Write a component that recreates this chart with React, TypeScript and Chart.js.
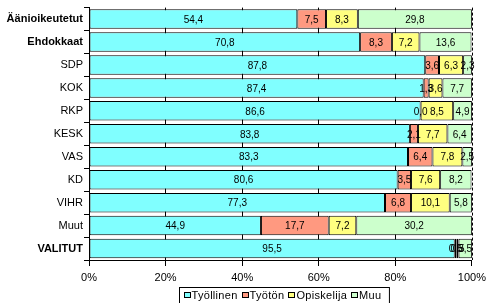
import React, { useEffect, useRef } from "react";
import { Chart, registerables } from "chart.js";

Chart.register(...registerables);

const categories = ["Äänioikeutetut", "Ehdokkaat", "SDP", "KOK", "RKP", "KESK", "VAS", "KD", "VIHR", "Muut", "VALITUT"];
const boldCategories = ["Äänioikeutetut", "Ehdokkaat", "VALITUT"];
const seriesNames = ["Työllinen", "Työtön", "Opiskelija", "Muu"];
const tyollinen = [54.4, 70.8, 87.8, 87.4, 86.6, 83.8, 83.3, 80.6, 77.3, 44.9, 95.5];
const tyoton = [7.5, 8.3, 3.6, 1.3, 0.0, 2.1, 6.4, 3.5, 6.8, 17.7, 0.5];
const opiskelija = [8.3, 7.2, 6.3, 3.6, 8.5, 7.7, 7.8, 7.6, 10.1, 7.2, 0.5];
const muu = [29.8, 13.6, 2.3, 7.7, 4.9, 6.4, 2.5, 8.2, 5.8, 30.2, 3.5];
const xTickValues = [0, 20, 40, 60, 80, 100];
const colors = ["#80FFFF", "#FF9980", "#FFFF80", "#CCFFCC"];

const FONT = "'Liberation Sans', Arial, sans-serif";

const labelPlugin = {
  id: "segLabels",
  afterDatasetsDraw(chart: any) {
    const ctx = chart.ctx;
    ctx.save();
    ctx.font = `10px ${FONT}`;
    ctx.fillStyle = "#000";
    ctx.textAlign = "center";
    ctx.textBaseline = "middle";
    chart.data.datasets.forEach((ds: any, di: number) => {
      const meta = chart.getDatasetMeta(di);
      meta.data.forEach((el: any, i: number) => {
        const v = ds.data[i];
        if (v == null) return;
        const cx = (el.x + el.base) / 2;
        ctx.fillText(v.toFixed(1).replace(".", ","), cx, el.y + 1);
      });
    });
    const a = chart.chartArea;
    ctx.strokeStyle = "#000";
    ctx.lineWidth = 1;
    ctx.setLineDash([3, 2]);
    ctx.beginPath();
    ctx.moveTo(Math.round(a.right) + 0.5, a.top);
    ctx.lineTo(Math.round(a.right) + 0.5, a.bottom);
    ctx.stroke();
    ctx.setLineDash([]);
    ctx.restore();
  },
  afterDraw(chart: any) {
    const ctx = chart.ctx;
    ctx.save();
    ctx.font = `11px ${FONT}`;
    try { (ctx as any).letterSpacing = "0.3px"; } catch (e) {}
    ctx.textBaseline = "middle";
    ctx.textAlign = "left";
    const sw = 7, sh = 6, gapAfterSw = 1, gapItems = 4, padL = 4, padR = 8;
    let total = padL + padR;
    const widths = seriesNames.map((n) => ctx.measureText(n).width);
    widths.forEach((w, i) => {
      total += sw + gapAfterSw + w + (i < widths.length - 1 ? gapItems : 0);
    });
    const cx = 283.5;
    const left = Math.round(cx - total / 2) + 0.5;
    const top = 287.5;
    ctx.strokeStyle = "#000";
    ctx.lineWidth = 1;
    ctx.strokeRect(left, top, total, 22);
    let x = left + padL;
    const y = 295;
    seriesNames.forEach((n, i) => {
      ctx.fillStyle = colors[i];
      ctx.fillRect(Math.round(x), y - 3, sw, sh);
      ctx.strokeRect(Math.round(x) + 0.5, y - 3 + 0.5, sw - 1, sh - 1);
      x += sw + gapAfterSw;
      ctx.fillStyle = "#000";
      ctx.fillText(n, x, y + 1);
      x += widths[i] + gapItems;
    });
    ctx.restore();
  },
};

export default function App() {
  const ref = useRef<HTMLCanvasElement | null>(null);
  useEffect(() => {
    if (!ref.current) return;
    const series = [tyollinen, tyoton, opiskelija, muu];
    const chart = new Chart(ref.current, {
      type: "bar",
      data: {
        labels: categories,
        datasets: series.map((d, i) => ({
          label: seriesNames[i],
          data: d,
          backgroundColor: colors[i],
          borderColor: "#000",
          borderWidth: 1,
          borderSkipped: false,
          barPercentage: 1,
          categoryPercentage: 0.85,
        })),
      },
      options: {
        indexAxis: "y",
        responsive: false,
        animation: false,
        layout: { padding: { top: 1, right: 14, bottom: 0, left: 0 } },
        plugins: { legend: { display: false }, tooltip: { enabled: false } },
        scales: {
          x: {
            stacked: true,
            min: 0,
            max: 100,
            afterBuildTicks: (scale: any) => {
              scale.ticks = xTickValues.map((v) => ({ value: v }));
            },
            afterFit: (scale: any) => {
              scale.height = 43;
            },
            grid: {
              color: (c: any) => (c.tick && c.tick.value === 100 ? "rgba(0,0,0,0)" : "#000"),
              tickColor: "#000",
              tickLength: 6,
              lineWidth: 1,
            },
            border: { display: true, color: "#000" },
            ticks: {
              color: "#000",
              padding: 5,
              maxRotation: 0,
              font: { family: FONT, size: 11 },
              callback: (v: any) => `${v}%`,
            },
          },
          y: {
            stacked: true,
            afterFit: (scale: any) => {
              scale.width = 89;
            },
            grid: { drawOnChartArea: false, tickColor: "#000", tickLength: 5 },
            border: { display: true, color: "#000" },
            ticks: {
              color: "#000",
              padding: 1,
              font: (c: any) => ({
                family: FONT,
                size: 11,
                weight: boldCategories.includes(categories[c.index]) ? "bold" : "normal",
              }),
            },
          },
        },
      },
      plugins: [labelPlugin],
    } as any);
    return () => chart.destroy();
  }, []);
  return (
    <div style={{ position: "absolute", left: 0, top: 0, width: 491, height: 303, background: "#fff" }}>
      <canvas ref={ref} width={491} height={303} />
    </div>
  );
}
